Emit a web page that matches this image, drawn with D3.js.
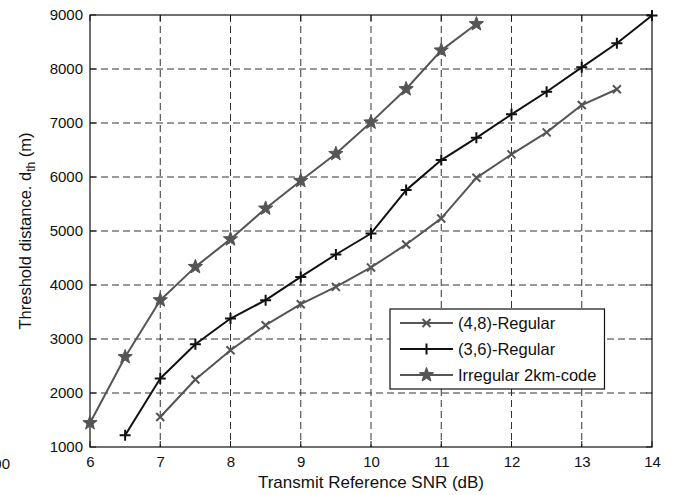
<!DOCTYPE html>
<html>
<head>
<meta charset="utf-8">
<script src="https://cdn.jsdelivr.net/npm/d3@7"></script>
<style>
  html, body { margin: 0; padding: 0; background: #fff; }
  svg { display: block; font-family: "Liberation Sans", Arial, sans-serif; }
</style>
</head>
<body>
<svg id="chart" width="674" height="495"></svg>
<script>
// ---- data ----
const xTicks = [6, 7, 8, 9, 10, 11, 12, 13, 14];
const yTicks = [1000, 2000, 3000, 4000, 5000, 6000, 7000, 8000, 9000];

const snr48 = [7, 7.5, 8, 8.5, 9, 9.5, 10, 10.5, 11, 11.5, 12, 12.5, 13, 13.5];
const dist48 = [1556, 2249, 2792, 3255, 3644, 3965, 4325, 4751, 5233, 5985, 6419, 6826, 7332, 7625];

const snr36 = [6.5, 7, 7.5, 8, 8.5, 9, 9.5, 10, 10.5, 11, 11.5, 12, 12.5, 13, 13.5, 14];
const dist36 = [1217, 2268, 2903, 3379, 3719, 4150, 4565, 4954, 5757, 6313, 6726, 7160, 7579, 8031, 8476, 8990];

const snrIrr = [6, 6.5, 7, 7.5, 8, 8.5, 9, 9.5, 10, 10.5, 11, 11.5];
const distIrr = [1445, 2668, 3719, 4336, 4849, 5418, 5930, 6430, 7012, 7629, 8345, 8833];

const seriesNames = ["(4,8)-Regular", "(3,6)-Regular", "Irregular 2km-code"];

// ---- layout ----
const svg = d3.select("#chart");
const L = 90, R = 652, T = 15, B = 447;
const x = d3.scaleLinear().domain([6, 14]).range([L, R]);
const y = d3.scaleLinear().domain([1000, 9000]).range([B, T]);

const series = [
  { name: seriesNames[0], xs: snr48, ys: dist48, color: "#555555", marker: "x" },
  { name: seriesNames[1], xs: snr36, ys: dist36, color: "#111111", marker: "plus" },
  { name: seriesNames[2], xs: snrIrr, ys: distIrr, color: "#555555", marker: "star" }
];

// grid
const grid = svg.append("g");
xTicks.slice(1, -1).forEach(t => {
  grid.append("line").attr("x1", x(t)).attr("x2", x(t)).attr("y1", T).attr("y2", B)
    .attr("stroke", "#333").attr("stroke-width", 1).attr("stroke-dasharray", "7,4");
});
yTicks.slice(1, -1).forEach(t => {
  grid.append("line").attr("x1", L).attr("x2", R).attr("y1", y(t)).attr("y2", y(t))
    .attr("stroke", "#333").attr("stroke-width", 1).attr("stroke-dasharray", "7,4");
});

// axes (labels) via d3 axes
const xAxis = d3.axisBottom(x).tickValues(xTicks).tickSize(0).tickPadding(9).tickFormat(d3.format("d"));
const yAxis = d3.axisLeft(y).tickValues(yTicks).tickSize(0).tickPadding(7).tickFormat(d3.format("d"));
const gx = svg.append("g").attr("transform", `translate(0,${B})`).call(xAxis);
const gy = svg.append("g").attr("transform", `translate(${L},0)`).call(yAxis);
[gx, gy].forEach(g => {
  g.select(".domain").remove();
  g.selectAll("text").attr("font-size", 15).attr("fill", "#111")
    .attr("font-family", "'Liberation Sans', Arial, sans-serif");
});

// inward ticks on all four sides
const tk = svg.append("g").attr("stroke", "#111").attr("stroke-width", 1);
xTicks.forEach(t => {
  tk.append("line").attr("x1", x(t)).attr("x2", x(t)).attr("y1", B).attr("y2", B - 6);
  tk.append("line").attr("x1", x(t)).attr("x2", x(t)).attr("y1", T).attr("y2", T + 6);
});
yTicks.forEach(t => {
  tk.append("line").attr("x1", L).attr("x2", L + 6).attr("y1", y(t)).attr("y2", y(t));
  tk.append("line").attr("x1", R).attr("x2", R - 6).attr("y1", y(t)).attr("y2", y(t));
});

// box
svg.append("rect").attr("x", L).attr("y", T).attr("width", R - L).attr("height", B - T)
  .attr("fill", "none").attr("stroke", "#111").attr("stroke-width", 1.2);

// markers
function starPath(r) {
  const inner = r * 0.42;
  const pts = [];
  for (let i = 0; i < 10; i++) {
    const a = -Math.PI / 2 + i * Math.PI / 5;
    const rr = i % 2 === 0 ? r : inner;
    pts.push([rr * Math.cos(a), rr * Math.sin(a)]);
  }
  return "M" + pts.map(p => p[0].toFixed(2) + "," + p[1].toFixed(2)).join("L") + "Z";
}
function drawMarker(g, cx, cy, type, color) {
  if (type === "x") {
    const s = 4;
    g.append("path").attr("d", `M${cx - s},${cy - s}L${cx + s},${cy + s}M${cx - s},${cy + s}L${cx + s},${cy - s}`)
      .attr("stroke", color).attr("stroke-width", 2).attr("fill", "none");
  } else if (type === "plus") {
    const s = 5.5;
    g.append("path").attr("d", `M${cx - s},${cy}L${cx + s},${cy}M${cx},${cy - s}L${cx},${cy + s}`)
      .attr("stroke", color).attr("stroke-width", 2).attr("fill", "none");
  } else {
    g.append("path").attr("d", starPath(7.5)).attr("transform", `translate(${cx},${cy})`)
      .attr("fill", color).attr("stroke", color).attr("stroke-width", 1).attr("stroke-linejoin", "miter");
  }
}

const line = d3.line();
series.forEach(s => {
  const pts = s.xs.map((v, i) => [x(v), y(s.ys[i])]);
  const g = svg.append("g");
  g.append("path").attr("d", line(pts)).attr("fill", "none")
    .attr("stroke", s.color).attr("stroke-width", 2).attr("stroke-linejoin", "round");
  pts.forEach(p => drawMarker(g, p[0], p[1], s.marker, s.color));
});

// legend
const lg = svg.append("g");
const lx = 390, ly = 309, lh = 80;
const rows = [323, 349, 375];
const texts = [];
const lgBox = lg.append("rect").attr("x", lx).attr("y", ly).attr("height", lh)
  .attr("fill", "#fff").attr("stroke", "#111").attr("stroke-width", 1.2);
series.forEach((s, i) => {
  lg.append("line").attr("x1", 400).attr("x2", 453).attr("y1", rows[i]).attr("y2", rows[i])
    .attr("stroke", s.color).attr("stroke-width", 2);
  drawMarker(lg, 426.5, rows[i], s.marker, s.color);
  const t = lg.append("text").attr("x", 458).attr("y", rows[i]).attr("dy", "0.35em")
    .attr("font-size", 16.5).attr("fill", "#111").text(s.name);
  texts.push(t);
});
const maxW = d3.max(texts, t => t.node().getComputedTextLength());
lgBox.attr("width", 458 + maxW + 8 - lx);

// axis titles
svg.append("text").attr("x", x(10)).attr("y", 488).attr("text-anchor", "middle")
  .attr("font-size", 17).attr("fill", "#111").text("Transmit Reference SNR (dB)");

const yl = svg.append("text").attr("transform", "translate(31,231) rotate(-90)")
  .attr("text-anchor", "middle").attr("font-size", 16.5).attr("fill", "#111");
yl.append("tspan").text("Threshold distance. d");
yl.append("tspan").attr("font-size", 12).attr("dy", 4).text("th");
yl.append("tspan").attr("dy", -4).text(" (m)");

// clipped fragment at bottom-left, as in the reference
svg.append("text").attr("x", 10).attr("y", 469).attr("text-anchor", "end")
  .attr("font-size", 15).attr("fill", "#111").text("1000");
</script>
</body>
</html>
